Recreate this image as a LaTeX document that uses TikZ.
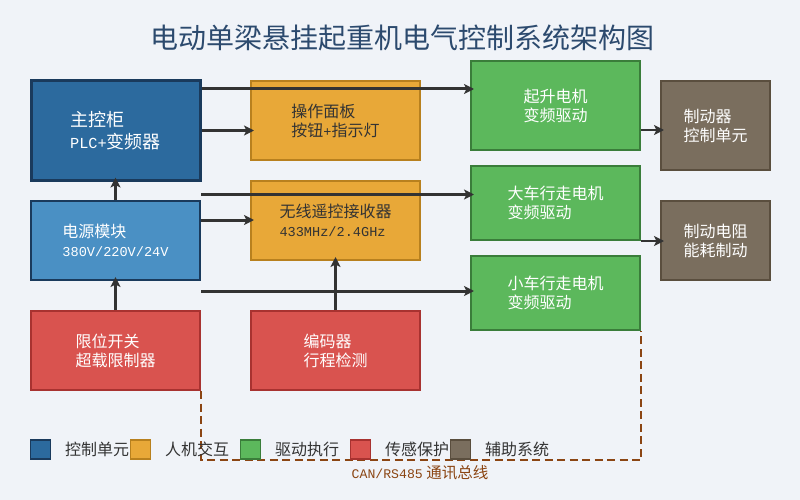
\documentclass[tikz,border=0pt]{standalone}
\usepackage{fontspec}
\setmainfont{Noto Sans CJK SC}
\newfontfamily\monof[Scale=0.85]{Liberation Mono}
\usetikzlibrary{arrows.meta}
\definecolor{bgc}{HTML}{F0F3F8}
\definecolor{mainf}{HTML}{2C6A9E}
\definecolor{mainb}{HTML}{1A3A5C}
\definecolor{powf}{HTML}{4A90C4}
\definecolor{orf}{HTML}{E8A838}
\definecolor{orb}{HTML}{B8801E}
\definecolor{grf}{HTML}{5CB85C}
\definecolor{grb}{HTML}{3A7D3A}
\definecolor{rdf}{HTML}{D9534F}
\definecolor{rdb}{HTML}{A83230}
\definecolor{brf}{HTML}{7A6E5E}
\definecolor{brb}{HTML}{5A4E3E}
\definecolor{titlec}{HTML}{2C4A6E}
\definecolor{busc}{HTML}{8B4513}
\definecolor{txtc}{HTML}{333333}
\tikzset{
  box/.style={draw, line width=2pt, rectangle, inner sep=0pt, align=left,
    font=\fontsize{16}{19}\selectfont, text=white},
  ctrl/.style={box, fill=mainf, draw=mainb, line width=3pt, font=\fontsize{18}{22}\selectfont},
  pow/.style={box, fill=powf, draw=mainb},
  hmi/.style={box, fill=orf, draw=orb, text=txtc},
  drv/.style={box, fill=grf, draw=grb},
  sens/.style={box, fill=rdf, draw=rdb},
  aux/.style={box, fill=brf, draw=brb},
  conn/.style={draw=txtc, line width=3pt, -{Stealth[length=10pt,width=10pt,inset=2.5pt]}, shorten >=-4pt},
  bus/.style={draw=busc, line width=2.2pt, dash pattern=on 8pt off 4.5pt},
  legsq/.style={draw, line width=1.5pt, minimum width=20pt, minimum height=19pt, inner sep=0pt},
  legtx/.style={anchor=west, text=txtc, font=\fontsize{16}{19}\selectfont, inner sep=0pt},
}
\begin{document}
\begin{tikzpicture}[x=1pt,y=-1pt]
\fill[bgc] (0,0) rectangle (800,500);
\useasboundingbox (0,0) rectangle (800,500);

\node[text=titlec, font=\fontsize{28}{32}\selectfont] (title) at (402,38) {电动单梁悬挂起重机电气控制系统架构图};

\node[ctrl, minimum width=169pt, minimum height=99pt] (main) at (115.5,130.5) {主控柜\\{\monof PLC+}变频器};
\node[pow, minimum width=169pt, minimum height=79pt] (power) at (115.5,240.5) {电源模块\\{\monof 380V/220V/24V}};
\node[sens, minimum width=169pt, minimum height=79pt] (limit) at (115.5,350.5) {限位开关\\超载限制器};

\node[hmi, minimum width=169pt, minimum height=79pt] (panel) at (335.5,120.5) {操作面板\\按钮{\monof +}指示灯};
\node[hmi, minimum width=169pt, minimum height=79pt] (remote) at (335.5,220.5) {无线遥控接收器\\{\monof 433MHz/2.4GHz}};
\node[sens, minimum width=169pt, minimum height=79pt] (encoder) at (335.5,350.5) {编码器\\行程检测};

\node[drv, minimum width=169pt, minimum height=89pt] (hoist) at (555.5,105.5) {起升电机\\变频驱动};
\node[drv, minimum width=169pt, minimum height=74pt] (bridge) at (555.5,203) {大车行走电机\\变频驱动};
\node[drv, minimum width=169pt, minimum height=74pt] (trolley) at (555.5,293) {小车行走电机\\变频驱动};

\node[aux, minimum width=109pt, minimum height=89pt] (brake) at (715.5,125.5) {制动器\\控制单元};
\node[aux, minimum width=109pt, minimum height=79pt] (resist) at (715.5,240.5) {制动电阻\\能耗制动};

% connectors
\draw[conn] ([yshift=-9.5pt]main.north east) -- ([yshift=-9.5pt]main.north east -| hoist.west);
\draw[conn] (main.east) -- (main.east -| panel.west);
\draw[conn] ([yshift=5.5pt]power.north east) -- ([yshift=5.5pt]power.north east -| bridge.west);
\draw[conn] ([yshift=-20pt]power.north east) -- ([yshift=-20pt]power.north east -| remote.west);
\draw[conn] ([yshift=-10pt]power.south east) -- ([yshift=-10pt]power.south east -| trolley.west);
\draw[conn] (power.north) -- (main.south);
\draw[conn] (limit.north) -- (power.south);
\draw[conn] (encoder.north) -- (remote.south);
\draw[conn, line width=2.2pt] ([yshift=-24.5pt]hoist.east) -- ([yshift=-24.5pt]hoist.east -| brake.west);
\draw[conn, line width=2.2pt] (bridge.south east) -- (bridge.south east -| resist.west);

% bus
\coordinate (busc) at (420,460);
\draw[bus] (limit.south east) |- (busc) -| (trolley.south east);
\node[text=busc, font=\fontsize{15.5}{18}\selectfont, inner sep=0pt] (buslbl) at (420,473) {{\monof CAN/RS485} 通讯总线};

% legend
\node[legsq, fill=mainf, draw=mainb] (l1) at (40.5,449.5) {};
\node[legtx] (t1) at (65,449) {控制单元};
\node[legsq, fill=orf, draw=orb] (l2) at (140.5,449.5) {};
\node[legtx] (t2) at (165,449) {人机交互};
\node[legsq, fill=grf, draw=grb] (l3) at (250.5,449.5) {};
\node[legtx] (t3) at (275,449) {驱动执行};
\node[legsq, fill=rdf, draw=rdb] (l4) at (360.5,449.5) {};
\node[legtx] (t4) at (385,449) {传感保护};
\node[legsq, fill=brf, draw=brb] (l5) at (460.5,449.5) {};
\node[legtx] (t5) at (485,449) {辅助系统};
\end{tikzpicture}
\end{document}
